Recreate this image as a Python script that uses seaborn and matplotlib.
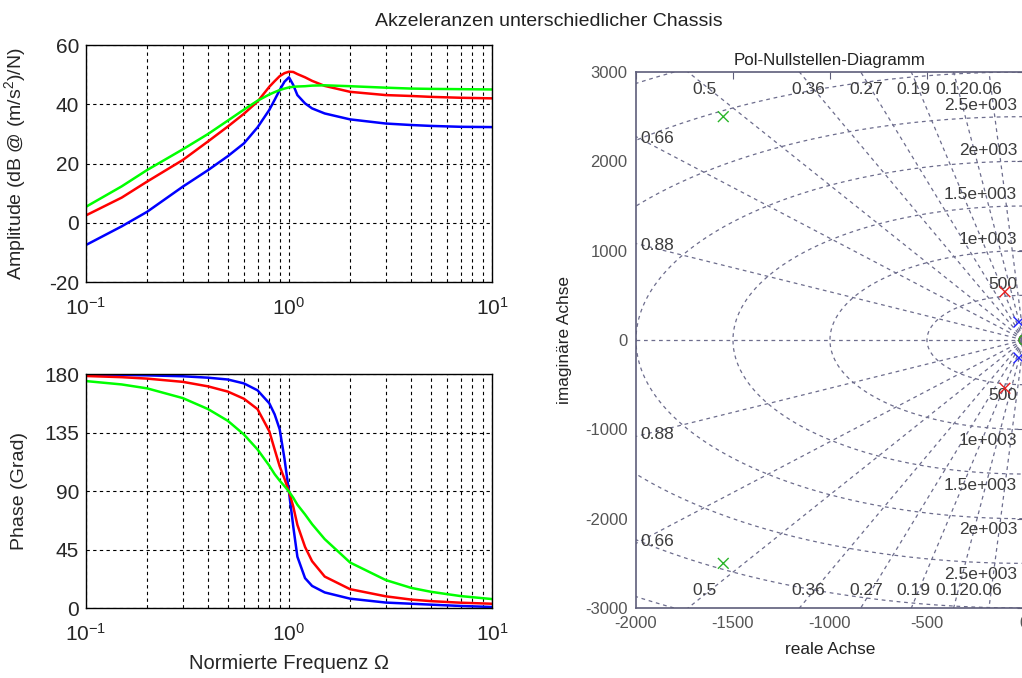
import numpy as np
import pandas as pd
import seaborn as sns
import matplotlib.pyplot as plt
from matplotlib.ticker import FixedLocator, NullFormatter

# Bode-Daten (normierte Frequenz)
freq = [0.1, 0.15, 0.2, 0.3, 0.4, 0.5, 0.6, 0.7, 0.8, 0.85, 0.9, 0.95, 1.0, 1.05,
        1.1, 1.2, 1.3, 1.5, 2, 3, 4, 5, 7, 10]
amp_blau = [-7.5, -1.2, 3.7, 12.2, 17.8, 22.5, 26.8, 32.2, 38.1, 41.5, 44.8, 47.6, 49.1, 46.5,
            43.1, 40.3, 38.6, 36.9, 34.9, 33.5, 33.0, 32.7, 32.4, 32.3]
amp_rot = [2.5, 8.5, 13.9, 21.2, 27.5, 32.5, 36.8, 40.9, 45.9, 47.8, 49.5, 50.5, 51.0, 50.9,
           50.2, 49.1, 47.9, 46.2, 44.2, 43.1, 42.8, 42.5, 42.2, 42.0]
amp_gruen = [5.4, 12.3, 17.8, 24.8, 30.0, 34.5, 38.2, 41.2, 43.3, 44.1, 44.8, 45.3, 45.7, 45.9,
             46.0, 46.1, 46.3, 46.4, 46.1, 45.6, 45.3, 45.2, 45.1, 45.0]
ph_blau = [179.5, 179.3, 179.0, 178.3, 177.2, 175.8, 172.8, 167.5, 157.5, 149.0, 137.5, 115.0, 89.6, 62.6,
           39.5, 23.0, 17.0, 12.0, 7.2, 4.2, 3.3, 2.6, 1.6, 0.8]
ph_rot = [178.5, 177.6, 176.5, 174.0, 170.5, 166.5, 161.0, 153.0, 136.0, 122.0, 109.0, 99.5, 89.6, 78.0,
          64.0, 47.0, 36.0, 24.2, 14.5, 9.0, 6.5, 5.3, 4.1, 3.3]
ph_gruen = [174.6, 172.0, 169.0, 161.5, 153.0, 144.0, 133.5, 122.0, 109.5, 103.0, 98.0, 93.8, 89.6, 84.8,
            79.5, 72.0, 64.5, 53.0, 35.0, 21.5, 15.5, 12.5, 9.2, 6.9]

# Pol-Nullstellen
pol_re = [-26, -26, -98, -98, -1550, -1550]
pol_im = [200, -200, 540, -540, 2500, -2500]
pol_farbe = ["blau", "blau", "rot", "rot", "gruen", "gruen"]
null_re = [0, 0, 0]
null_im = [0, 0, 0]
null_farbe = ["blau", "rot", "gruen"]

# sgrid
zeta = [0.06, 0.12, 0.19, 0.27, 0.36, 0.5, 0.66, 0.88]
wn = [500, 1000, 1500, 2000, 2500, 3000, 3500, 4000]
wn_beschriftet = [500, 1000, 1500, 2000, 2500]
wn_text = ["500", "1e+003", "1.5e+003", "2e+003", "2.5e+003"]

sns.set_style("white")
plt.rcParams['font.family'] = ['Liberation Sans', 'DejaVu Sans']
plt.rcParams['mathtext.fontset'] = 'custom'
plt.rcParams['mathtext.rm'] = 'Liberation Sans'
plt.rcParams['mathtext.it'] = 'Liberation Sans'
plt.rcParams['axes.unicode_minus'] = False

farben = {"blau": "#0000ff", "rot": "#ff0000", "gruen": "#00ff00"}
farben_pz = {"blau": "#2222ff", "rot": "#e82020", "gruen": "#2ab52a"}

df = pd.DataFrame({
    "f": freq * 3,
    "amp": amp_blau + amp_rot + amp_gruen,
    "ph": ph_blau + ph_rot + ph_gruen,
    "chassis": ["blau"] * len(freq) + ["rot"] * len(freq) + ["gruen"] * len(freq),
})

fig = plt.figure(figsize=(10.22, 6.78), dpi=100)
ax1 = fig.add_axes([0.0841, 0.584, 0.3973, 0.3496])
ax2 = fig.add_axes([0.0841, 0.1032, 0.3973, 0.3451])
ax3 = fig.add_axes([0.6223, 0.1032, 0.3796, 0.7906])

minor = [m * 10.0 ** e for e in (-1, 0) for m in range(2, 10)]
for ax, col, lim, ticks in [(ax1, "amp", (-20, 60), [-20, 0, 20, 40, 60]),
                            (ax2, "ph", (0, 180), [0, 45, 90, 135, 180])]:
    sns.lineplot(data=df, x="f", y=col, hue="chassis", palette=farben,
                 linewidth=1.8, legend=False, ax=ax, sort=True)
    ax.set_xscale("log")
    ax.set_xlim(0.1, 10)
    ax.set_ylim(*lim)
    ax.set_yticks(ticks)
    ax.set_xticks([0.1, 1, 10])
    ax.set_xticklabels([r"$10^{-1}$", r"$10^{0}$", r"$10^{1}$"])
    ax.xaxis.set_minor_locator(FixedLocator(minor))
    ax.xaxis.set_minor_formatter(NullFormatter())
    ax.grid(True, which="both", axis="x", color="k", ls=(0, (3, 3)), lw=0.8)
    ax.grid(True, which="major", axis="y", color="k", ls=(0, (3, 3)), lw=0.8)
    ax.tick_params(which="both", direction="in", labelsize=15, length=0)
    ax.tick_params(axis="x", pad=11)
    ax.tick_params(axis="y", pad=5)
    for s in ax.spines.values():
        s.set_color("k")
        s.set_linewidth(1.0)
    ax.set_xlabel("")

ax1.set_ylabel("Amplitude (dB @ (m/s$^2$)/N)", fontsize=14)
ax1.yaxis.set_label_coords(-0.143, 0.5)
ax2.set_ylabel("Phase (Grad)", fontsize=14)
ax2.yaxis.set_label_coords(-0.143, 0.5)
ax2.set_xlabel("Normierte Frequenz \u03a9", fontsize=14.5, labelpad=6)

fig.text(0.537, 0.968, "Akzeleranzen unterschiedlicher Chassis", ha="center",
         va="center", fontsize=14, color="#222222")

# Pol-Nullstellen-Diagramm
gitter = "#6d6d8d"
ls_g = (0, (3, 3))
rmax = 6000
for z in zeta:
    s = np.sqrt(1 - z ** 2)
    for sg in (1, -1):
        ax3.plot([0, -z * rmax], [0, sg * s * rmax], color=gitter, ls=ls_g, lw=0.9)
ax3.axhline(0, color=gitter, ls=ls_g, lw=0.9)
phi = np.linspace(np.pi / 2, 3 * np.pi / 2, 300)
for w in wn:
    ax3.plot(w * np.cos(phi), w * np.sin(phi), color=gitter, ls=ls_g, lw=0.9)

tc = "#3c3c3c"
for z in zeta:
    s = np.sqrt(1 - z ** 2)
    x_top = -2800 * z / s
    if x_top > -1950:
        for sg in (1, -1):
            ax3.text(x_top - 30, sg * 2800, f"{z:g}", ha="center", va="center",
                     fontsize=12.5, color=tc)
    else:
        y_l = 2000 * s / z
        for sg in (1, -1):
            ax3.text(-1975, sg * (y_l - 20), f"{z:g}", ha="left", va="center",
                     fontsize=12.5, color=tc)
for w, t in zip(wn_beschriftet, wn_text):
    for sg in (1, -1):
        ax3.text(-35, sg * (w + 125), t, ha="right", va="center",
                 fontsize=12.5, color=tc)

pz_pol = pd.DataFrame({"re": pol_re, "im": pol_im, "c": pol_farbe})
pz_null = pd.DataFrame({"re": null_re, "im": null_im, "c": null_farbe})
sns.scatterplot(data=pz_pol, x="re", y="im", hue="c", palette=farben_pz, marker="x",
                s=60, linewidth=1.0, legend=False, ax=ax3, zorder=5)
sns.scatterplot(data=pz_null, x="re", y="im", hue="c", palette=farben_pz, marker="o",
                s=50, linewidth=1.0, legend=False, ax=ax3, zorder=5)
for coll in ax3.collections[-1:]:
    coll.set_facecolor("none")
    coll.set_edgecolor([farben_pz[c] for c in null_farbe])

ax3.set_xlim(-2000, 0)
ax3.set_ylim(-3000, 3000)
ax3.set_xticks([-2000, -1500, -1000, -500, 0])
ax3.set_yticks([-3000, -2000, -1000, 0, 1000, 2000, 3000])
ax3.tick_params(direction="in", labelsize=12, labelcolor="#555555", color="#5e5e7a",
                length=5, top=True, right=True, pad=6)
for s in ax3.spines.values():
    s.set_color("#5e5e7a")
    s.set_linewidth(1.2)
ax3.set_title("Pol-Nullstellen-Diagramm", fontsize=12.2, color="#222222", pad=5)
ax3.set_xlabel("reale Achse", fontsize=12.4, color="#222222", labelpad=8)
ax3.set_ylabel("imagin\u00e4re Achse", fontsize=12.4, color="#222222")
ax3.yaxis.set_label_coords(-0.165, 0.5)

fig.savefig("out.png", dpi=100)
